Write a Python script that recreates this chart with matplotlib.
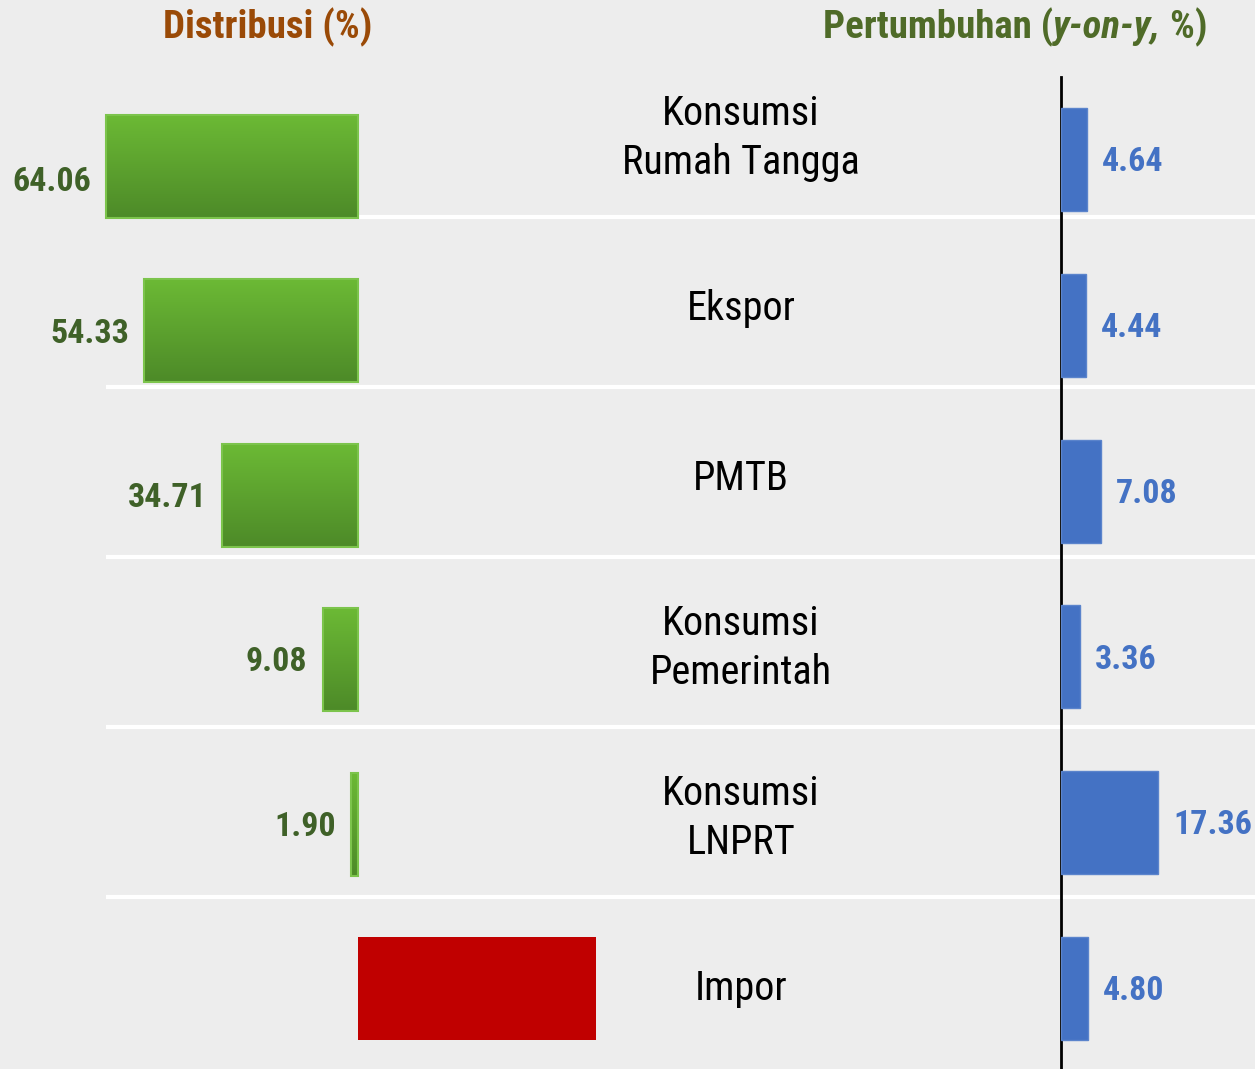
import os
import numpy as np
import matplotlib
matplotlib.use("Agg")
import matplotlib.pyplot as plt
from matplotlib import font_manager
from matplotlib.font_manager import FontProperties
from matplotlib.colors import LinearSegmentedColormap

# --- data ---
categories = ["Konsumsi\nRumah Tangga", "Ekspor", "PMTB", "Konsumsi\nPemerintah",
              "Konsumsi\nLNPRT", "Impor"]
distribusi = [64.06, 54.33, 34.71, 9.08, 1.90, -60.40]   # impor drawn without label
dist_labels = ["64.06", "54.33", "34.71", "9.08", "1.90", ""]
pertumbuhan = [4.64, 4.44, 7.08, 3.36, 17.36, 4.80]
tumbuh_labels = ["4.64", "4.44", "7.08", "3.36", "17.36", "4.80"]

BG = "#EDEDED"; GREEN_T = "#6CBA35"; GREEN_B = "#4D8A28"; GREEN_E = "#7CC44C"
GREEN_TXT = "#3F6128"; BROWN = "#9A4A07"; OLIVE = "#4F6B28"; BLUE = "#4472C4"; RED = "#C00000"


def font_file(base, weight="normal", style="normal"):
    # static Roboto Condensed faces look closest to Arial Narrow
    for f in font_manager.fontManager.ttflist:
        if os.path.basename(f.fname) == base:
            return FontProperties(fname=f.fname)
    return FontProperties(family=["Roboto Condensed", "Liberation Sans"], weight=weight, style=style)

F_REG = font_file("RobotoCondensed-Regular.ttf")
F_BOLD = font_file("RobotoCondensed-Bold.ttf", "bold")
F_BI = font_file("RobotoCondensed-BoldItalic.ttf", "bold", "italic")

W, H = 1255, 1069
fig = plt.figure(figsize=(W / 100, H / 100), dpi=100, facecolor=BG)

# background layer in pixel coordinates: row separators + category names
bg = fig.add_axes([0, 0, 1, 1]); bg.set_xlim(0, W); bg.set_ylim(H, 0); bg.axis("off")
top, cell = 47, 170
for k in range(1, len(categories)):
    bg.plot([106, W], [top + cell * k] * 2, color="white", lw=3, solid_capstyle="butt")
for k, c in enumerate(categories):
    bg.text(741, top + cell * (k + 0.5) + 6, c, ha="center", va="center", fontproperties=F_REG,
            fontsize=29, linespacing=1.33, color="black")

# titles
bg.text(268, 27, "Distribusi (%)", ha="center", va="center", fontproperties=F_BOLD,
        fontsize=28, color=BROWN)
fig.canvas.draw()
r = fig.canvas.get_renderer()
parts = [("Pertumbuhan (", F_BOLD), ("y-on-y,", F_BI), (" %)", F_BOLD)]
widths = []
tmp = []
for s, fp in parts:
    t = bg.text(0, 27, s, fontproperties=fp, fontsize=28, color=OLIVE, va="center")
    widths.append(t.get_window_extent(r).width); tmp.append(t)
x0 = 1015 - sum(widths) / 2
for t, w in zip(tmp, widths):
    t.set_x(x0); x0 += w

# left: distribution bars (green, gradient) growing leftwards from x=358
axl = fig.add_axes([0, 0, 700 / W, 1]); axl.set_facecolor("none")
h = 0.627
grad = np.linspace(0, 1, 256).reshape(-1, 1)
gcmap = LinearSegmentedColormap.from_list("g", [GREEN_T, GREEN_B])
y = np.arange(len(categories))
nudge = [11, 2, 2, 2, 2, 2]   # first label sits a bit low in the original
for yi, v, lab, dy in zip(y, distribusi, dist_labels, nudge):
    if v >= 0:
        bar = axl.barh(yi, v, height=h, color="none", edgecolor=GREEN_E, lw=1.5, zorder=3)[0]
        im = axl.imshow(grad, cmap=gcmap, extent=[0, v, yi + h / 2, yi - h / 2],
                        aspect="auto", zorder=2)
        im.set_clip_path(bar)
        axl.annotate(lab, (v, yi), xytext=(-11, -dy), textcoords="offset points",
                     ha="right", va="center", fontproperties=F_BOLD, fontsize=24.5,
                     color=GREEN_TXT)
    else:
        axl.barh(yi, v, height=h, color=RED, zorder=3)
axl.set_xlim(358.5 / 3.94, -341.5 / 3.94)
axl.set_ylim((H - 166.5) / 164.4, -166.5 / 164.4)
axl.axis("off")

# right: growth bars (blue) from the vertical axis at x=1061
axr = fig.add_axes([1061 / W, 0, (W - 1061) / W, (H - 77) / H]); axr.set_facecolor("none")
axr.barh(y, pertumbuhan, height=0.621, color=BLUE, edgecolor="#5B84CC", lw=1, zorder=3)
for yi, v, lab in zip(y, pertumbuhan, tumbuh_labels):
    axr.annotate(lab, (v, yi), xytext=(11, -2), textcoords="offset points", ha="left",
                 va="center", fontproperties=F_BOLD, fontsize=24.5, color=BLUE,
                 annotation_clip=False)
axr.set_xlim(0, (W - 1061) / 5.6)
axr.set_ylim((H - 159.5) / 165.8, (77 - 159.5) / 165.8)
for s in ["top", "right", "bottom"]:
    axr.spines[s].set_visible(False)
axr.spines["left"].set_linewidth(2); axr.spines["left"].set_color("black")
axr.set_xticks([]); axr.set_yticks([])

fig.savefig("out.png", dpi=100, facecolor=BG)
